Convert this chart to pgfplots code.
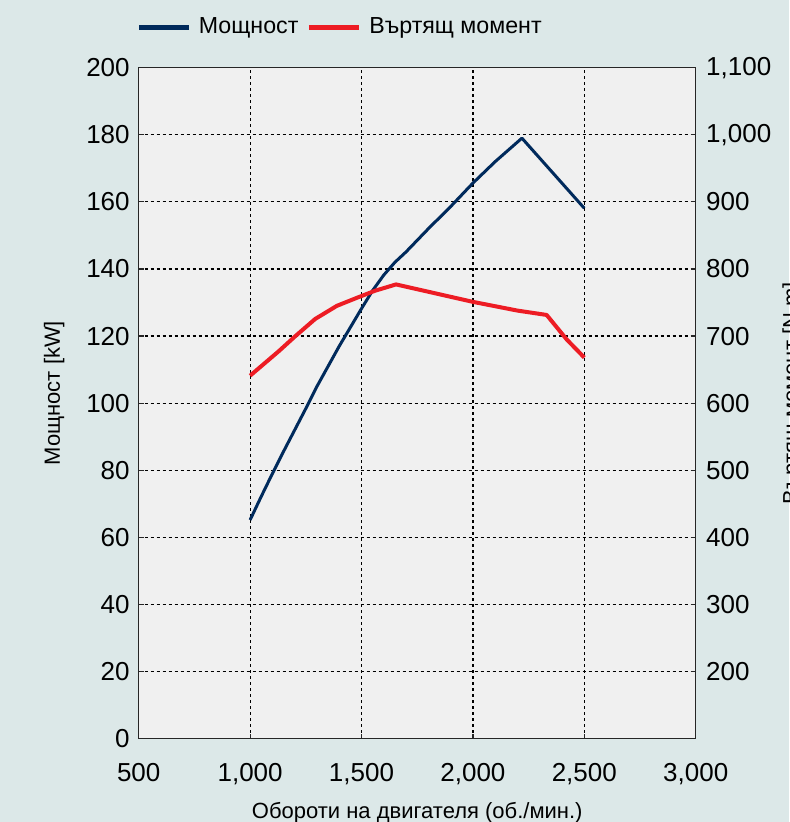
\documentclass[border=0pt]{standalone}
\usepackage{fontspec}
\setmainfont{Liberation Sans}
\usepackage{pgfplots}
\pgfplotsset{compat=1.18}
\definecolor{bgc}{RGB}{220,232,232}
\definecolor{plotbg}{RGB}{240,240,240}
\definecolor{navy}{RGB}{0,42,92}
\definecolor{tred}{RGB}{237,28,36}
\begin{document}
\begin{tikzpicture}
\fill[bgc] (-69.35pt,-41.65pt) rectangle (325.15pt,369.35pt);
\pgfplotsset{
  base/.style={
    width=278.5pt, height=335.5pt, scale only axis, at={(0,0)}, anchor=south west,
    xmin=500, xmax=3000,
    tick align=inside, major tick length=2.5pt,
    tick style={black!85, line width=0.6pt},
    axis line style={black!85, line width=0.6pt},
    ticklabel style={font=\fontsize{13}{15}\selectfont},
    /pgf/number format/assume math mode=true,
    /pgf/number format/1000 sep={,},
    label style={font=\fontsize{11}{13}\selectfont, inner sep=0pt},
  }
}
\begin{axis}[base,
  axis background/.style={fill=plotbg},
  ymin=0, ymax=200, ytick={0,20,...,200},
  xtick={500,1000,...,3000},
  xtick pos=bottom, ytick pos=left,
  grid=major,
  major grid style={black, line width=0.6pt, dash pattern=on 1.5pt off 1.5pt},
  xticklabel style={yshift=-9pt},
  yticklabel style={xshift=-1pt},
  xlabel={Обороти на двигателя (об./мин.)},
  ylabel={Мощност [kW]},
  xlabel style={at={(axis description cs:0.5,-0.094)}, anchor=north},
  ylabel style={at={(axis description cs:-0.171,0.515)}, anchor=north},
  legend columns=2,
  legend image code/.code={\draw[line width=2.5pt] (0pt,0pt) -- (25pt,0pt); \path (27pt,0pt);},
  legend style={at={(axis description cs:-0.004,1.06)}, anchor=west, draw=none, fill=none,
    inner sep=0pt, font=\fontsize{11.6}{13}\selectfont,
    /tikz/every even column/.append style={column sep=2pt}},
]
\addplot[navy, line width=1.5pt, line join=round] coordinates {
(1000,65.2) (1050,72.2) (1100,79.0) (1150,85.6) (1200,92.0) (1250,98.4)
(1300,105.0) (1350,111.0) (1400,117.0) (1450,122.6) (1500,128.2) (1550,133.6)
(1600,138.2) (1650,142.0) (1700,145.1) (1800,152.0) (1900,158.6) (2000,165.6)
(2100,172.0) (2220,179.0) (2500,158.1)
};
\addlegendentry{Мощност}
\addlegendimage{tred, line width=2.5pt}
\addlegendentry{Въртящ момент}
\end{axis}
\begin{axis}[base,
  ymin=100, ymax=1100, ytick={200,300,...,1100},
  axis y line*=right, axis x line=none,
  yticklabel style={xshift=1.7pt},
  ylabel={Въртящ момент [N.m]},
  ylabel style={at={(axis description cs:1.155,0.515)}, anchor=north},
]
\addplot[tred, line width=2pt, line join=round] coordinates {
(1000,641) (1060,658) (1127,677) (1200,699) (1292,725.5) (1389,745) (1479,757)
(1561,767.6) (1655,777) (2000,751) (2200,738) (2331,731.5) (2421,695) (2500,668)
};
\end{axis}
\pgfresetboundingbox
\useasboundingbox (-69.35pt,-41.65pt) rectangle (325.15pt,369.35pt);
\end{tikzpicture}
\end{document}
